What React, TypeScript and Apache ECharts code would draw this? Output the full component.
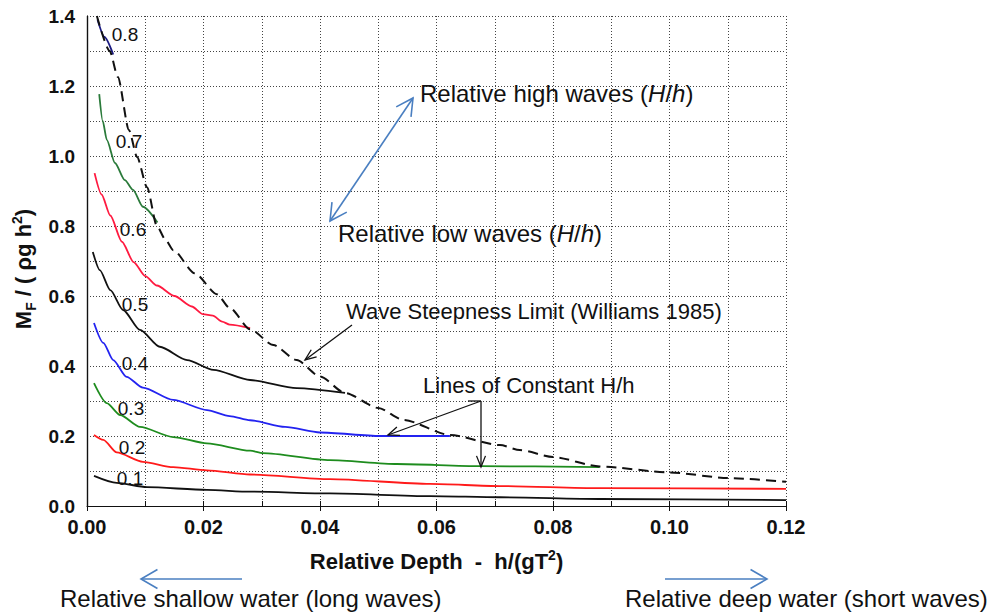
import React, { useEffect, useRef } from "react";
import * as echarts from "echarts";

// ---- data ----
const xTickValues = [0, 0.02, 0.04, 0.06, 0.08, 0.1, 0.12];
const yTickValues = [0, 0.2, 0.4, 0.6, 0.8, 1.0, 1.2, 1.4];
const ratioLabels = ["0.1", "0.2", "0.3", "0.4", "0.5", "0.6", "0.7", "0.8"];

const c01 = [[0.0012, 0.086], [0.0051, 0.066], [0.0103, 0.054], [0.0206, 0.046], [0.028, 0.041], [0.0417, 0.036], [0.0589, 0.028], [0.0709, 0.025], [0.088, 0.02], [0.12, 0.017]];
const c02 = [[0.0012, 0.203], [0.0028, 0.189], [0.0051, 0.153], [0.0096, 0.126], [0.0148, 0.111], [0.0206, 0.102], [0.028, 0.09], [0.0417, 0.077], [0.0589, 0.063], [0.0709, 0.057], [0.088, 0.051], [0.12, 0.049]];
const c03 = [[0.0012, 0.351], [0.0034, 0.294], [0.0057, 0.26], [0.0091, 0.226], [0.0148, 0.197], [0.0206, 0.179], [0.028, 0.158], [0.0302, 0.151], [0.0417, 0.131], [0.0532, 0.12], [0.0675, 0.114], [0.088, 0.111]];
const c04 = [[0.0012, 0.523], [0.0028, 0.466], [0.0045, 0.417], [0.0068, 0.369], [0.0096, 0.338], [0.0148, 0.303], [0.0206, 0.274], [0.0245, 0.257], [0.028, 0.245], [0.034, 0.226], [0.04, 0.21], [0.0503, 0.2], [0.0623, 0.2]];
const c05 = [[0.001, 0.726], [0.0022, 0.674], [0.004, 0.617], [0.0062, 0.56], [0.0091, 0.503], [0.0125, 0.455], [0.0172, 0.417], [0.0217, 0.389], [0.028, 0.36], [0.036, 0.337], [0.0443, 0.323]];
const c06 = [[0.0013, 0.951], [0.0025, 0.89], [0.004, 0.83], [0.006, 0.755], [0.008, 0.697], [0.01, 0.657], [0.012, 0.63], [0.015, 0.6], [0.018, 0.57], [0.0199, 0.548], [0.0216, 0.544], [0.0232, 0.527], [0.0245, 0.518], [0.028, 0.508]];
const c07 = [[0.0021, 1.177], [0.0027, 1.1], [0.0034, 1.046], [0.0048, 0.98], [0.0065, 0.931], [0.0079, 0.903], [0.0096, 0.855], [0.0121, 0.81]];
const c08 = [[0.0018, 1.39], [0.003, 1.34], [0.0045, 1.29]];
const steepnessLimit = [[0.0017, 1.4], [0.0039, 1.3], [0.0053, 1.226], [0.0072, 1.074], [0.0086, 0.997], [0.0103, 0.911], [0.012, 0.8], [0.0135, 0.76], [0.0148, 0.731], [0.0185, 0.665], [0.0223, 0.605], [0.0245, 0.566], [0.028, 0.505], [0.032, 0.46], [0.036, 0.417], [0.04, 0.37], [0.0443, 0.323], [0.05, 0.28], [0.0543, 0.246], [0.0623, 0.203], [0.0709, 0.174], [0.0743, 0.16], [0.08, 0.14], [0.088, 0.113], [0.1, 0.096], [0.11, 0.08], [0.12, 0.069]];

const curves = [c01, c02, c03, c04, c05, c06, c07, c08];
const curveColors = ["#111111", "#ff1a1a", "#1e8c1e", "#2323f0", "#111111", "#ff1a40", "#2a7a3a", "#1a1a80"];
const labelPos = [[130, 478], [132, 447], [131, 408], [135, 363], [135, 304], [133, 229], [129, 141], [125, 34]];

const FONT = "Liberation Sans, Arial, Helvetica, sans-serif";

function arrowHead(tx: number, ty: number, fx: number, fy: number, len: number, deg: number) {
  const a = Math.atan2(fy - ty, fx - tx);
  const d = (deg * Math.PI) / 180;
  return [
    [tx + len * Math.cos(a + d), ty + len * Math.sin(a + d)],
    [tx, ty],
    [tx + len * Math.cos(a - d), ty + len * Math.sin(a - d)],
  ];
}

function arrow(fx: number, fy: number, tx: number, ty: number, color: string, len: number, deg: number, both = false, width = 1.5) {
  const els: any[] = [
    { type: "line", shape: { x1: fx, y1: fy, x2: tx, y2: ty }, style: { stroke: color, lineWidth: width }, z: 100 },
    { type: "polyline", shape: { points: arrowHead(tx, ty, fx, fy, len, deg) }, style: { stroke: color, lineWidth: width, fill: null }, z: 100 },
  ];
  if (both) {
    els.push({ type: "polyline", shape: { points: arrowHead(fx, fy, tx, ty, len, deg) }, style: { stroke: color, lineWidth: width, fill: null }, z: 100 });
  }
  return els;
}

function txt(x: number, y: number, text: string, size: number, rich?: any) {
  return {
    type: "text",
    x,
    y,
    z: 100,
    style: {
      text,
      fontFamily: FONT,
      fontSize: size,
      fill: "#111",
      verticalAlign: "middle",
      align: "left",
      rich,
    },
  };
}

export default function App() {
  const ref = useRef<HTMLDivElement>(null);
  useEffect(() => {
    if (!ref.current) return;
    const chart = echarts.init(ref.current, undefined, { renderer: "svg" });
    const gridLine = { show: true, lineStyle: { color: "#444", type: [1, 2], width: 1 } };
    const italicRich = (size: number) => ({ i: { fontStyle: "italic", fontSize: size, fontFamily: FONT, fill: "#111" } });

    const graphics: any[] = [];
    ratioLabels.forEach((t, i) => {
      graphics.push({
        type: "text",
        x: labelPos[i][0],
        y: labelPos[i][1],
        z: 90,
        style: { text: t, fontFamily: FONT, fontSize: 19, fill: "#111", align: "center", verticalAlign: "middle" },
      });
    });
    graphics.push(txt(420, 93, "Relative high waves ({i|H}/{i|h})", 24, italicRich(24)));
    graphics.push(txt(338, 233, "Relative low waves ({i|H}/{i|h})", 24, italicRich(24)));
    graphics.push(txt(346, 311, "Wave Steepness Limit (Williams 1985)", 22));
    graphics.push(txt(423, 385, "Lines of Constant H/h", 22));
    graphics.push(txt(60, 598, "Relative shallow water (long waves)", 24));
    graphics.push(txt(625, 598, "Relative deep water (short waves)", 24));
    graphics.push(...arrow(330, 221, 413, 98, "#4a7fc1", 19, 28, true, 1.6));
    graphics.push(...arrow(242, 579, 141, 579, "#4a7fc1", 19, 30, false, 1.6));
    graphics.push(...arrow(665, 579, 767, 579, "#4a7fc1", 19, 30, false, 1.6));
    graphics.push(...arrow(352, 325, 305, 360, "#111", 12, 22, false, 1.3));
    graphics.push(...arrow(481, 401, 388, 435, "#111", 12, 22, false, 1.3));
    graphics.push({ type: "line", shape: { x1: 468, y1: 401, x2: 481, y2: 401 }, style: { stroke: "#111", lineWidth: 1.3 }, z: 100 });
    graphics.push(...arrow(481, 401, 481, 467, "#111", 12, 22, false, 1.3));

    const series: any[] = curves.map((c, i) => ({
      type: "line",
      data: c,
      showSymbol: false,
      smooth: 0.25,
      smoothMonotone: "x",
      lineStyle: { color: curveColors[i], width: 1.8 },
      z: 5,
    }));
    series.push({
      type: "line",
      data: steepnessLimit,
      showSymbol: false,
      smooth: 0.25,
      smoothMonotone: "x",
      lineStyle: { color: "#111", width: 2, type: [10, 6] },
      z: 6,
    });

    chart.setOption({
      animation: false,
      backgroundColor: "#fff",
      grid: { left: 87, right: 202, top: 16, bottom: 108, containLabel: false, outerBoundsMode: "none" },
      xAxis: [
        {
          type: "value",
          min: 0,
          max: 0.12,
          interval: 0.02,
          name: "{a|Relative Depth\u00a0\u00a0-\u00a0\u00a0h/(gT}{p|2}{a|)}",
          nameLocation: "middle",
          nameGap: 42,
          nameTextStyle: {
            rich: {
              a: { fontFamily: FONT, fontSize: 22, fontWeight: "bold", color: "#111", lineHeight: 26 },
              p: { fontFamily: FONT, fontSize: 14, fontWeight: "bold", color: "#111", verticalAlign: "top", lineHeight: 26 },
            },
          },
          axisLine: { show: true, lineStyle: { color: "#111", width: 1.2 } },
          axisTick: { show: true, inside: true, length: 5, lineStyle: { color: "#111" } },
          minorTick: { show: true, splitNumber: 2, length: 5, lineStyle: { color: "#111" } },
          axisLabel: {
            margin: 11,
            fontFamily: FONT,
            fontSize: 20,
            fontWeight: "bold",
            color: "#111",
            formatter: (v: number) => v.toFixed(2),
            customValues: xTickValues,
          },
          splitLine: gridLine,
          minorSplitLine: gridLine,
        },
        {
          type: "value",
          position: "top",
          min: 0,
          max: 0.12,
          interval: 0.02,
          axisLine: { show: false },
          axisTick: { show: true, inside: true, length: 5, lineStyle: { color: "#111" } },
          axisLabel: { show: false },
          splitLine: { show: false },
        },
      ],
      yAxis: [
        {
          type: "value",
          min: 0,
          max: 1.4,
          interval: 0.2,
          name: "{a|M}{s|F}{a|\u00a0/\u00a0(\u00a0ρg\u00a0h}{p|2}{a|)}",
          nameLocation: "middle",
          nameGap: 49,
          nameTextStyle: {
            padding: [0, 16, 0, 0],
            rich: {
              a: { fontFamily: FONT, fontSize: 22, fontWeight: "bold", color: "#111", lineHeight: 28 },
              s: { fontFamily: FONT, fontSize: 14, fontWeight: "bold", color: "#111", verticalAlign: "bottom", lineHeight: 28 },
              p: { fontFamily: FONT, fontSize: 14, fontWeight: "bold", color: "#111", verticalAlign: "top", lineHeight: 28 },
            },
          },
          axisLine: { show: true, lineStyle: { color: "#111", width: 1.2 } },
          axisTick: { show: false },
          axisLabel: {
            margin: 12,
            fontFamily: FONT,
            fontSize: 19,
            fontWeight: "bold",
            color: "#111",
            formatter: (v: number) => v.toFixed(1),
            customValues: yTickValues,
          },
          minorTick: { show: false, splitNumber: 2 },
          splitLine: gridLine,
          minorSplitLine: gridLine,
        },
        {
          type: "value",
          position: "right",
          min: 0,
          max: 1.4,
          interval: 0.2,
          axisLine: { show: true, lineStyle: { color: "#111", width: 1.2 } },
          axisTick: { show: false },
          axisLabel: { show: false },
          splitLine: { show: false },
        },
      ],
      series,
      graphic: graphics,
    });
    return () => chart.dispose();
  }, []);
  return <div ref={ref} style={{ position: "absolute", left: 0, top: 0, width: 988, height: 614, background: "#fff" }} />;
}
